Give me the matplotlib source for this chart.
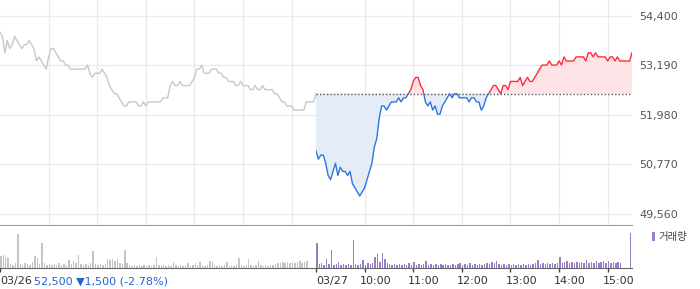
import numpy as np
import matplotlib
matplotlib.use('Agg')
import matplotlib.pyplot as plt
from matplotlib.patches import Rectangle

# 3-minute samples of the two sessions (09:00 .. 15:30)
day1_prices = [
    54000, 53900, 53500, 53800, 53600, 53700, 53900, 53800, 53700, 53600,
    53700, 53700, 53800, 53700, 53600, 53300, 53400, 53300, 53200, 53100,
    53400, 53600, 53600, 53500, 53400, 53300, 53300, 53200, 53200, 53100,
    53100, 53100, 53100, 53100, 53100, 53100, 53200, 53000, 52900, 53000,
    53000, 53000, 53100, 53000, 52900, 52700, 52600, 52500, 52500, 52400,
    52300, 52200, 52200, 52300, 52300, 52300, 52300, 52200, 52200, 52300,
    52200, 52300, 52300, 52300, 52300, 52300, 52300, 52400, 52400, 52400,
    52700, 52800, 52700, 52700, 52800, 52700, 52700, 52700, 52700, 52800,
    52900, 53100, 53100, 53200, 53000, 53000, 53000, 53100, 53100, 53100,
    53000, 53000, 52900, 52900, 52800, 52800, 52800, 52700, 52700, 52800,
    52700, 52700, 52700, 52600, 52600, 52700, 52600, 52600, 52700, 52600,
    52600, 52600, 52600, 52500, 52500, 52400, 52300, 52300, 52200, 52200,
    52200, 52100, 52100, 52100, 52100, 52100, 52300, 52300, 52300, 52300,
    52500,
]
day2_prices = [
    51100, 50900, 51000, 51000, 50800, 50500, 50400, 50600, 50800, 50500,
    50700, 50600, 50600, 50500, 50600, 50300, 50200, 50100, 50000, 50100,
    50200, 50400, 50600, 50800, 51200, 51400, 51900, 52200, 52200, 52100,
    52200, 52300, 52300, 52300, 52400, 52300, 52400, 52400, 52500, 52600,
    52800, 52900, 52900, 52700, 52600, 52300, 52200, 52300, 52100, 52200,
    52000, 52000, 52200, 52300, 52400, 52500, 52400, 52500, 52500, 52400,
    52400, 52400, 52400, 52300, 52400, 52400, 52300, 52300, 52100, 52200,
    52400, 52500, 52600, 52700, 52700, 52600, 52500, 52700, 52700, 52600,
    52800, 52800, 52800, 52800, 52900, 52700, 52800, 52900, 52800, 52800,
    52900, 53000, 53100, 53200, 53200, 53200, 53300, 53200, 53200, 53200,
    53300, 53200, 53400, 53300, 53300, 53300, 53300, 53400, 53400, 53400,
    53400, 53300, 53500, 53500, 53400, 53500, 53400, 53400, 53400, 53400,
    53300, 53400, 53400, 53300, 53400, 53300, 53300, 53300, 53300, 53300,
    53500,
]
day1_volume = [
    12, 13, 11, 10, 4, 3, 5, 34, 4, 3,
    5, 4, 3, 6, 12, 10, 4, 25, 5, 3,
    4, 3, 4, 3, 5, 3, 4, 3, 8, 4,
    7, 5, 13, 4, 3, 4, 3, 5, 17, 4,
    3, 4, 3, 4, 9, 8, 9, 7, 9, 5,
    4, 18, 5, 3, 2, 3, 2, 3, 2, 3,
    2, 3, 2, 3, 11, 3, 2, 3, 2, 3,
    2, 6, 3, 2, 3, 2, 3, 5, 2, 3,
    5, 3, 6, 3, 2, 3, 7, 6, 3, 2,
    3, 2, 3, 6, 2, 3, 2, 3, 10, 3,
    2, 3, 9, 3, 2, 3, 7, 3, 2, 3,
    2, 3, 3, 4, 5, 5, 6, 5, 6, 5,
    6, 5, 6, 7, 5, 6, 7, 0, 0, 0,
]
day2_volume = [
    25, 4, 5, 3, 9, 4, 18, 3, 4, 6,
    3, 4, 3, 4, 3, 28, 4, 3, 4, 8,
    3, 5, 4, 5, 11, 14, 6, 15, 9, 5,
    4, 3, 4, 3, 4, 3, 4, 3, 5, 3,
    6, 3, 4, 3, 4, 7, 3, 4, 3, 4,
    3, 4, 3, 4, 3, 3, 4, 3, 4, 5,
    3, 4, 3, 5, 3, 4, 3, 4, 3, 4,
    5, 4, 6, 5, 7, 4, 3, 4, 3, 4,
    3, 4, 3, 4, 3, 4, 3, 4, 3, 4,
    5, 8, 4, 5, 4, 5, 4, 5, 4, 5,
    11, 5, 6, 7, 5, 6, 5, 6, 5, 6,
    5, 8, 5, 6, 5, 7, 5, 6, 7, 5,
    7, 5, 6, 5, 6, 5, 0, 0, 0, 35,
]
prev_close = 52500
price_ticks = [49560, 50770, 51980, 53190, 54400]
date_labels = ['03/26', '03/27']
hour_labels = ['10:00', '11:00', '12:00', '13:00', '14:00', '15:00']
info_text = '52,500 \u25bc1,500 (-2.78%)'

# minutes since 03/26 09:00, each session is 390 minutes long
t1 = np.arange(0, 391, 3)
t2 = 390 + t1

fig = plt.figure(figsize=(7, 2.89), dpi=100)
ax = fig.add_axes([0, 64 / 289, 632 / 700, 225 / 289])
vax = fig.add_axes([0, 21 / 289, 632 / 700, 42 / 289])

# price panel
ax.set_xlim(0, 780)
ax.set_ylim(49291, 54791)
ax.set_axisbelow(True)

ax.plot(t1, day1_prices, color='#c8c8c8', lw=1)

p2 = np.array(day2_prices)
ax.fill_between(t2, p2, prev_close, where=p2 <= prev_close, interpolate=True,
                color='#e4ecf8', lw=0)
ax.fill_between(t2, p2, prev_close, where=p2 >= prev_close, interpolate=True,
                color='#fde3e6', lw=0)
ax.hlines(prev_close, 390, 780, colors='#555555', linestyles=(0, (1, 1.5)), lw=1)

blue_line, = ax.plot(t2, p2, color='#2f76dc', lw=1)
red_line, = ax.plot(t2, p2, color='#ff2d3c', lw=1)
blue_line.set_clip_path(Rectangle((390, 40000), 390, prev_close - 40000, transform=ax.transData))
red_line.set_clip_path(Rectangle((390, prev_close), 390, 10000, transform=ax.transData))

ax.set_xticks(list(range(60, 391, 60)) + list(range(450, 751, 60)))
ax.set_yticks(price_ticks)
ax.set_yticklabels([f'{p:,}' for p in price_ticks])
ax.yaxis.tick_right()
ax.tick_params(axis='x', length=0, labelbottom=False)
ax.tick_params(axis='y', length=0, pad=5, labelsize=8, labelcolor='#555555')
ax.grid(color='#ebebeb', lw=1)
for s in ['top', 'left', 'right']:
    ax.spines[s].set_visible(False)
ax.spines['bottom'].set_color('#9a9a9a')

# volume panel
vax.set_xlim(0, 780)
vax.set_ylim(0, 42)
vax.bar(t1[:-1] + 1, day1_volume, width=1.8, color='#c4c4c4', lw=0)
vax.bar(t2[:-1] + 1, day2_volume, width=1.8, color='#9a7cc8', lw=0)
vax.set_yticks([])
ticks = [0, 390] + list(range(450, 751, 60))
vax.set_xticks(ticks)
vax.set_xticklabels([''] * len(ticks))
vax.tick_params(axis='x', direction='out', length=3, width=1, color='#444444')
for s in ['top', 'left', 'right']:
    vax.spines[s].set_visible(False)
vax.spines['bottom'].set_color('#666666')

labels = date_labels + hour_labels
for pos, lab in zip(ticks, labels):
    dx = 0 if '/' in lab else -5
    vax.annotate(lab, xy=(pos, 0), xycoords=('data', 'axes fraction'),
                 xytext=(dx, -13), textcoords='offset pixels',
                 ha='left', va='center', fontsize=8, color='#333333')

fig.text(34 / 700, 8 / 289, info_text, ha='left', va='center', fontsize=8, color='#1f63d8')

# legend
fig.add_artist(Rectangle((652 / 700, 48 / 289), 3 / 700, 9 / 289,
                         transform=fig.transFigure, color='#9a7cc8', lw=0))
fig.text(658 / 700, 52 / 289, '거래량', ha='left', va='center', fontsize=7.5,
         color='#444444', family=['Noto Sans CJK KR', 'DejaVu Sans'])

fig.savefig('out.png', dpi=100)
